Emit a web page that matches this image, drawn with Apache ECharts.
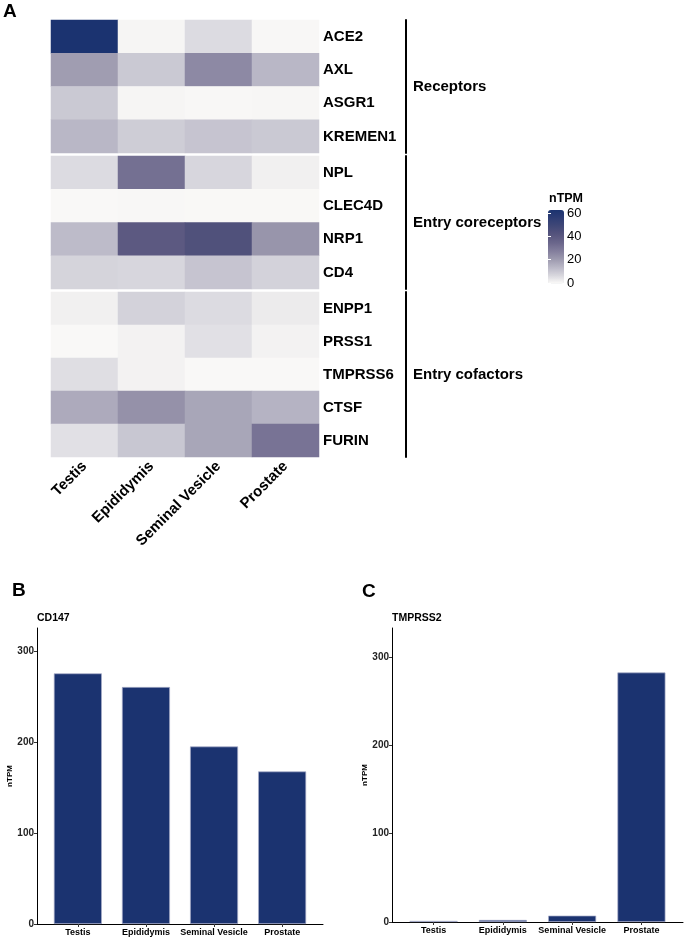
<!DOCTYPE html>
<html>
<head>
<meta charset="utf-8">
<script src="https://cdn.jsdelivr.net/npm/echarts@6/dist/echarts.min.js"></script>
<style>
html,body{margin:0;padding:0;background:#fff;}
#chart{width:685px;height:939px;}
</style>
</head>
<body>
<div id="chart"></div>
<script>
// ---- data ----
const tissues = ['Testis', 'Epididymis', 'Seminal Vesicle', 'Prostate'];

const receptorGenes = ['ACE2', 'AXL', 'ASGR1', 'KREMEN1'];
const receptorValues = [
  [63, 1, 6, 0.5],
  [20, 10, 25, 14],
  [10, 1, 0.5, 0.8],
  [14, 9, 11, 10]
];
const coreceptorGenes = ['NPL', 'CLEC4D', 'NRP1', 'CD4'];
const coreceptorValues = [
  [6, 32, 7, 2],
  [0.3, 0.6, 0.4, 0.4],
  [13, 40, 44, 22],
  [7.5, 7, 11, 8]
];
const cofactorGenes = ['ENPP1', 'PRSS1', 'TMPRSS6', 'CTSF', 'FURIN'];
const cofactorValues = [
  [2, 8, 6, 3],
  [0.3, 1.5, 5, 1.5],
  [5.5, 1.5, 0.3, 0.3],
  [17, 23, 18, 15],
  [5, 10.5, 18, 31]
];
const groupLabels = ['Receptors', 'Entry coreceptors', 'Entry cofactors'];
const legendTicks = [0, 20, 40, 60];

const cd147Values = [276, 261, 195.5, 168];
const tmprss2Values = [1.2, 2.3, 7.2, 282.6];
const barTicks = [0, 100, 200, 300];

// ---- build ----
const FONT = 'Liberation Sans, Arial, Helvetica, sans-serif';
const heatColors = ['#FBFAF8', '#D7D6DD', '#B9B7C6', '#9C99AE', '#827D9C', '#6A668B', '#56547D', '#414877', '#2E3D74', '#1B3370'];

const groupGenes = [receptorGenes, coreceptorGenes, cofactorGenes];
const groupValues = [receptorValues, coreceptorValues, cofactorValues];
const groupGrids = [
  {left: 51, top: 20, width: 268, height: 133},
  {left: 51, top: 156, width: 268, height: 133},
  {left: 51, top: 292, width: 268, height: 165}
];

const grid = groupGrids.concat([
  {left: 548, top: 213, width: 16, height: 70},   // legend ticks
  {left: 37, top: 628, width: 286, height: 296},  // B
  {left: 392, top: 628, width: 291, height: 294}  // C
]);

const xAxis = [];
const yAxis = [];
const series = [];

groupGenes.forEach((genes, g) => {
  const isLast = g === groupGenes.length - 1;
  xAxis.push({
    type: 'category', gridIndex: g, data: tissues,
    show: isLast,
    axisLine: {show: false}, axisTick: {show: false},
    axisLabel: {rotate: 45, fontSize: 15, fontWeight: 'bold', color: '#000', margin: 7, fontFamily: FONT, interval: 0}
  });
  yAxis.push({
    type: 'category', gridIndex: g, data: genes, inverse: true, position: 'right',
    axisLine: {show: false}, axisTick: {show: false},
    axisLabel: {fontSize: 15, fontWeight: 'bold', color: '#000', margin: 4, fontFamily: FONT}
  });
  yAxis.push({
    type: 'value', gridIndex: g, min: 0, max: 1, position: 'right', offset: 87,
    axisLine: {show: true, lineStyle: {color: '#000', width: 2}},
    axisTick: {show: false}, axisLabel: {show: false}, splitLine: {show: false},
    name: groupLabels[g], nameLocation: 'middle', nameRotate: 0, nameGap: 7,
    nameTextStyle: {fontSize: 15, fontWeight: 'bold', color: '#000', align: 'left', verticalAlign: 'middle', fontFamily: FONT}
  });
  const data = [];
  groupValues[g].forEach((row, r) => row.forEach((v, c) => data.push([c, r, v])));
  series.push({
    type: 'heatmap', xAxisIndex: g, yAxisIndex: g * 2, data: data,
    itemStyle: {borderWidth: 0}, emphasis: {disabled: true}
  });
});

// legend tick axes (grid 3)
xAxis.push({type: 'value', gridIndex: 3, show: false, min: 0, max: 1});
yAxis.push({
  type: 'value', gridIndex: 3, min: 0, max: 60, interval: 20, position: 'right', z: 10,
  axisLine: {show: false}, splitLine: {show: false},
  axisTick: {show: true, inside: true, length: 3, lineStyle: {color: '#fff', width: 1}, customValues: legendTicks},
  axisLabel: {fontSize: 13, color: '#000', margin: 3, fontFamily: FONT, customValues: legendTicks}
});
yAxis.push({
  type: 'value', gridIndex: 3, min: 0, max: 60, interval: 20, position: 'left', z: 10,
  axisLine: {show: false}, splitLine: {show: false}, axisLabel: {show: false},
  axisTick: {show: true, inside: true, length: 3, lineStyle: {color: '#fff', width: 1}, customValues: legendTicks}
});

// bar charts
function barAxes(gi, maxV, gap) {
  const xi = xAxis.length;
  xAxis.push({
    type: 'value', gridIndex: gi, min: 0.4, max: 4.6,
    axisLine: {show: true, onZero: false, lineStyle: {color: '#000', width: 1}},
    axisTick: {show: true, length: 3, lineStyle: {color: '#333'}, customValues: tissues.map((t, i) => i + 1)},
    splitLine: {show: false},
    axisLabel: {
      customValues: tissues.map((t, i) => i + 1),
      formatter: v => tissues[Math.round(v) - 1] || '',
      fontSize: 9, fontWeight: 'bold', color: '#000', margin: 4, fontFamily: FONT
    }
  });
  const yi = yAxis.length;
  yAxis.push({
    type: 'value', gridIndex: gi, min: 0, max: maxV,
    axisLine: {show: true, lineStyle: {color: '#000', width: 1}},
    axisTick: {show: true, length: 3, lineStyle: {color: '#333'}, customValues: barTicks},
    splitLine: {show: false},
    axisLabel: {customValues: barTicks, fontSize: 10, fontWeight: 'bold', color: '#222', margin: 3, fontFamily: FONT},
    name: 'nTPM', nameLocation: 'middle', nameGap: gap,
    nameTextStyle: {fontSize: 8, fontWeight: 'bold', color: '#000', fontFamily: FONT}
  });
  return [xi, yi];
}
const [bx, by] = barAxes(4, 326, 19);
const [cx, cy] = barAxes(5, 333, 23);

const barStyle = {color: '#1B3370', borderColor: '#A9ADC9', borderWidth: 0.7};
series.push({
  type: 'bar', xAxisIndex: bx, yAxisIndex: by, barWidth: 48,
  data: cd147Values.map((v, i) => [i + 1, v]), itemStyle: barStyle, emphasis: {disabled: true}
});
series.push({
  type: 'bar', xAxisIndex: cx, yAxisIndex: cy, barWidth: 48,
  data: tmprss2Values.map((v, i) => [i + 1, v]), itemStyle: barStyle, emphasis: {disabled: true}
});

const titleStyle = (size) => ({fontSize: size, fontWeight: 'bold', color: '#000', fontFamily: FONT});
const option = {
  animation: false,
  backgroundColor: '#fff',
  textStyle: {fontFamily: FONT},
  title: [
    {text: 'A', left: 3, top: 2, padding: 0, textStyle: titleStyle(19)},
    {text: 'B', left: 12, top: 581, padding: 0, textStyle: titleStyle(19)},
    {text: 'C', left: 362, top: 582, padding: 0, textStyle: titleStyle(19)},
    {text: 'CD147', left: 37, top: 613, padding: 0, textStyle: titleStyle(10.5)},
    {text: 'TMPRSS2', left: 392, top: 613, padding: 0, textStyle: titleStyle(10.5)},
    {text: 'nTPM', left: 549, top: 192, padding: 0, textStyle: titleStyle(12.5)}
  ],
  visualMap: {
    type: 'continuous', min: 0, max: 63, seriesIndex: [0, 1, 2],
    calculable: false, left: 548, top: 210, itemWidth: 16, itemHeight: 73.5, padding: 0,
    text: null, showLabel: false,
    inRange: {color: heatColors}
  },
  grid: grid,
  xAxis: xAxis,
  yAxis: yAxis,
  series: series
};

const chart = echarts.init(document.getElementById('chart'), null, {renderer: 'canvas'});
chart.setOption(option);
</script>
</body>
</html>
